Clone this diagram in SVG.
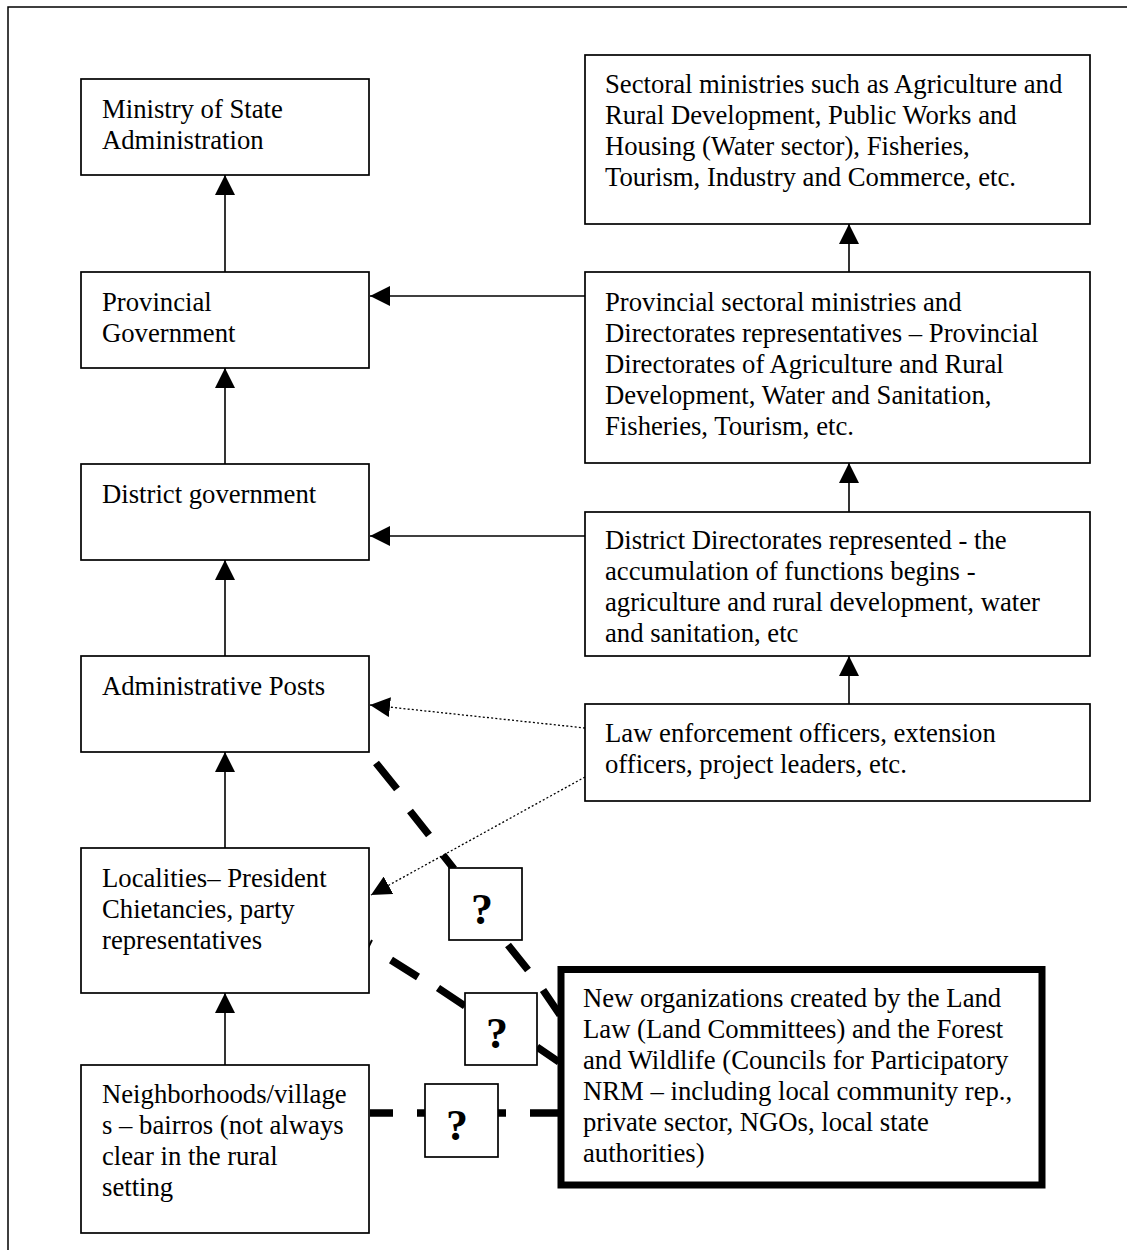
<svg xmlns="http://www.w3.org/2000/svg" width="1127" height="1250" viewBox="0 0 1127 1250">
<style>
.box{fill:#fff;stroke:#000;stroke-width:1.7}
.thick{fill:#fff;stroke:#000;stroke-width:7}
.t{font-family:"Liberation Serif","Times New Roman",serif;font-size:26.7px;fill:#000}
.q{font-family:"Liberation Serif","Times New Roman",serif;font-size:44px;font-weight:bold;fill:#000;text-anchor:middle}
.arr{stroke:#000;stroke-width:1.6;fill:none;marker-end:url(#ah)}
.dot{stroke:#000;stroke-width:1.3;fill:none;stroke-dasharray:2 2.2;marker-end:url(#ah)}
.dash{stroke:#000;stroke-width:7.5;fill:none;stroke-linecap:butt}
</style>
<defs>
<marker id="ah" viewBox="0 0 20 20" refX="20" refY="10" markerWidth="20" markerHeight="20" markerUnits="userSpaceOnUse" orient="auto">
<path d="M0,0 L20,10 L0,20 z" fill="#000"/>
</marker>
</defs>
<rect x="8" y="7" width="1200" height="1300" fill="#fff" stroke="#000" stroke-width="1.5"/>
<g id="connectors">
<line class="arr" x1="225" y1="272" x2="225" y2="175"/>
<line class="arr" x1="225" y1="464" x2="225" y2="368"/>
<line class="arr" x1="225" y1="656" x2="225" y2="560"/>
<line class="arr" x1="225" y1="848" x2="225" y2="752"/>
<line class="arr" x1="225" y1="1065" x2="225" y2="993"/>
<line class="arr" x1="849" y1="272" x2="849" y2="224"/>
<line class="arr" x1="849" y1="512" x2="849" y2="463"/>
<line class="arr" x1="849" y1="704" x2="849" y2="656"/>
<line class="arr" x1="585" y1="296" x2="370" y2="296"/>
<line class="arr" x1="585" y1="536" x2="370" y2="536"/>
<line class="dot" x1="585" y1="728" x2="370" y2="705"/>
<line class="dot" x1="585" y1="777" x2="371" y2="895"/>
<path class="dash" d="M376,763 L397,789 M410,811 L429,835 M443,855 L454,869 M508,945 L528,970 M543,990 L560,1015"/>
<path class="dash" d="M391,960 L418,977 M438,988 L465,1006 M537,1047 L559,1062"/>
<path d="M372,940 L368,948" stroke="#000" stroke-width="2" fill="none"/>
<path class="dash" d="M370,1113 H393 M417,1113 H425 M498,1113 H506 M530,1113 H559"/>
</g>
<g id="ministry-state-admin">
<rect class="box" x="81" y="79" width="288" height="96"/>
<text class="t" x="102" y="118">Ministry of State</text>
<text class="t" x="102" y="149">Administration</text>
</g>
<g id="provincial-government">
<rect class="box" x="81" y="272" width="288" height="96"/>
<text class="t" x="102" y="311">Provincial</text>
<text class="t" x="102" y="342">Government</text>
</g>
<g id="district-government">
<rect class="box" x="81" y="464" width="288" height="96"/>
<text class="t" x="102" y="503">District government</text>
</g>
<g id="administrative-posts">
<rect class="box" x="81" y="656" width="288" height="96"/>
<text class="t" x="102" y="695">Administrative Posts</text>
</g>
<g id="localities">
<rect class="box" x="81" y="848" width="288" height="145"/>
<text class="t" x="102" y="887">Localities– President</text>
<text class="t" x="102" y="918">Chietancies, party</text>
<text class="t" x="102" y="949">representatives</text>
</g>
<g id="neighborhoods">
<rect class="box" x="81" y="1065" width="288" height="168"/>
<text class="t" x="102" y="1103">Neighborhoods/village</text>
<text class="t" x="102" y="1134">s – bairros (not always</text>
<text class="t" x="102" y="1165">clear in the rural</text>
<text class="t" x="102" y="1196">setting</text>
</g>
<g id="sectoral-ministries">
<rect class="box" x="585" y="55" width="505" height="169"/>
<text class="t" x="605" y="93">Sectoral ministries such as Agriculture and</text>
<text class="t" x="605" y="124">Rural Development, Public Works and</text>
<text class="t" x="605" y="155">Housing (Water sector), Fisheries,</text>
<text class="t" x="605" y="186">Tourism, Industry and Commerce, etc.</text>
</g>
<g id="provincial-sectoral">
<rect class="box" x="585" y="272" width="505" height="191"/>
<text class="t" x="605" y="311">Provincial sectoral ministries and</text>
<text class="t" x="605" y="342">Directorates representatives – Provincial</text>
<text class="t" x="605" y="373">Directorates of Agriculture and Rural</text>
<text class="t" x="605" y="404">Development, Water and Sanitation,</text>
<text class="t" x="605" y="435">Fisheries, Tourism, etc.</text>
</g>
<g id="district-directorates">
<rect class="box" x="585" y="512" width="505" height="144"/>
<text class="t" x="605" y="549">District Directorates represented - the</text>
<text class="t" x="605" y="580">accumulation of functions begins -</text>
<text class="t" x="605" y="611">agriculture and rural development, water</text>
<text class="t" x="605" y="642">and sanitation, etc</text>
</g>
<g id="law-enforcement">
<rect class="box" x="585" y="704" width="505" height="97"/>
<text class="t" x="605" y="742">Law enforcement officers, extension</text>
<text class="t" x="605" y="773">officers, project leaders, etc.</text>
</g>
<g id="new-organizations">
<rect class="thick" x="561" y="969.5" width="481" height="215.5"/>
<text class="t" x="583" y="1007">New organizations created by the Land</text>
<text class="t" x="583" y="1038">Law (Land Committees) and the Forest</text>
<text class="t" x="583" y="1069">and Wildlife (Councils for Participatory</text>
<text class="t" x="583" y="1100">NRM – including local community rep.,</text>
<text class="t" x="583" y="1131">private sector, NGOs, local state</text>
<text class="t" x="583" y="1162">authorities)</text>
</g>
<g id="q1">
<rect class="box" x="449" y="868" width="73" height="72"/>
<text class="q" x="482" y="924">?</text>
</g>
<g id="q2">
<rect class="box" x="465" y="993" width="72" height="72"/>
<text class="q" x="497" y="1048">?</text>
</g>
<g id="q3">
<rect class="box" x="425" y="1084" width="73" height="73"/>
<text class="q" x="457" y="1140">?</text>
</g>
</svg>
